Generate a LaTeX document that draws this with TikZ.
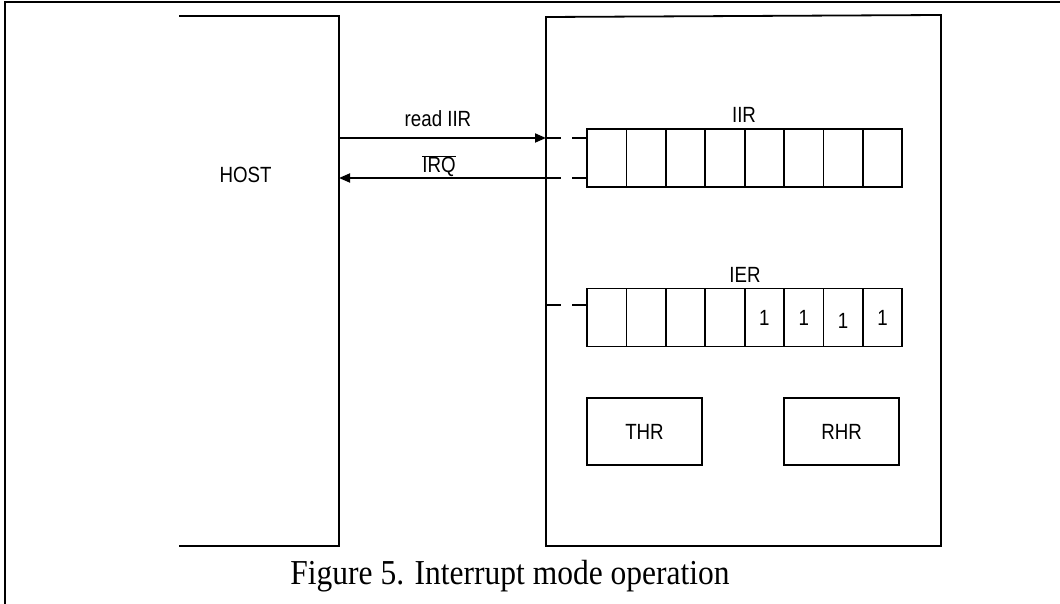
\documentclass[tikz,border=0pt]{standalone}
\usepackage{fontspec}
\setmainfont{Liberation Sans}
\newfontfamily\narrowfont[FakeStretch=0.85]{Liberation Sans}
\newfontfamily\capfont[FakeStretch=0.9]{Liberation Serif}
\usetikzlibrary{arrows.meta}
\begin{document}
\begin{tikzpicture}[x=1pt,y=-1pt,line width=1.8pt,
  lbl/.style={font=\narrowfont\fontsize{22}{26}\selectfont,inner sep=0pt,anchor=base},
  cellbox/.style={draw,line width=1.8pt,minimum width=39.4pt,minimum height=58pt,inner sep=0pt,outer sep=0pt},
  regbox/.style={draw,line width=1.8pt,minimum width=115pt,minimum height=67pt,inner sep=0pt,font=\narrowfont\fontsize{22}{26}\selectfont},
  arr/.style={-{Triangle[length=11pt,width=9pt]}},
  stub/.style={dash pattern=on 15pt off 11pt}]
\useasboundingbox (0,0) rectangle (1060,604);
% outer frame
\draw[line width=1.2pt] (5,604) -- (5,2) -- (1060,2);
% host
\coordinate (hTL) at (179,16);
\coordinate (hTR) at (339,16);
\coordinate (hBR) at (339,546);
\coordinate (hBL) at (179,546);
\draw (hTL) -- (hTR) -- (hBR) -- (hBL);
\node[lbl] (host) at (245.5,183) {HOST};
% device
\coordinate (dTL) at (546,17);
\coordinate (dTR) at (941,15);
\coordinate (dBR) at (941,546);
\coordinate (dBL) at (546,546);
\draw (dBL) -- (dTL) -- (dTR) -- (dBR) -- cycle;
% IIR register
\foreach \i in {0,...,7} {
  \node[cellbox] (iir\i) at ({587+39.4*\i+19.7},158) {};
}
\node[lbl] (iirlbl) at (744,123) {IIR};
% IER register
\foreach \i in {0,...,3} {
  \node[cellbox] (ier\i) at ({587+39.4*\i+19.7},317.5) {};
}
\foreach \i in {4,5,7} {
  \node[cellbox] (ier\i) at ({587+39.4*\i+19.7},317.5) {};
  \node[lbl] at ({587+39.4*\i+19.7},325) {1};
}
\node[cellbox] (ier6) at ({587+39.4*6+19.7},317.5) {};
\node[lbl] at ({587+39.4*6+19.7},328) {1};
\node[lbl] (ierlbl) at (745,282) {IER};
% THR / RHR
\node[regbox] (thr) at (644.5,431.5) {THR};
\node[regbox] (rhr) at (841.5,431.5) {RHR};
% connection points on boxes
\coordinate (hA) at (339,138);
\coordinate (hB) at (339,178);
\coordinate (dA) at (546,138);
\coordinate (dB) at (546,178);
\coordinate (dC) at (546,305);
% arrows
\draw[arr] (hA) -- (dA);
\draw[arr] (dB) -- (hB);
\node[lbl] (readlbl) at (438,127) {read IIR};
\node[lbl] (irqlbl) at (439,173) {$\overline{\mbox{IRQ}}$};
% stubs
\draw[stub] (dA) -- (dA -| iir0.west);
\draw[stub] (dB) -- (dB -| iir0.west);
\draw[stub] (dC) -- (dC -| ier0.west);
% caption
\node[font=\capfont\fontsize{35}{40}\selectfont,inner sep=0pt,anchor=base] (cap) at (510,584) {Figure 5. Interrupt mode operation};
\end{tikzpicture}
\end{document}
